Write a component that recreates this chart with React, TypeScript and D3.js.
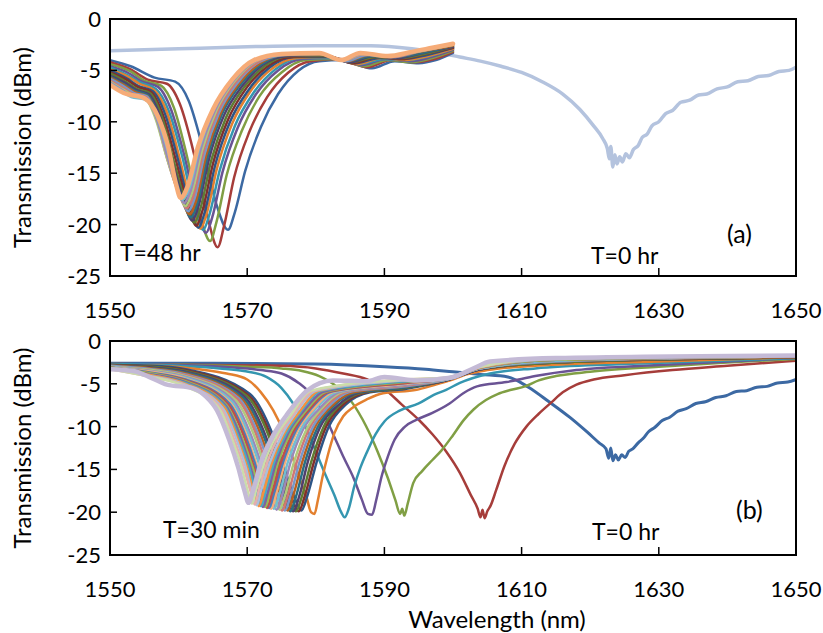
import React from "react";
import * as d3 from "d3";

type Pt = [number, number];

const xTicks = [1550, 1570, 1590, 1610, 1630, 1650];
const yTicks = [0, -5, -10, -15, -20, -25];

// ---------- panel (a) ----------
// T=0 hr spectrum
const aT0: Pt[] = [
  [1550, -3.1], [1560, -2.9], [1570, -2.7], [1580, -2.6], [1588, -2.6], [1594, -2.9], [1598, -3.3],
  [1601, -3.7], [1604, -4.1], [1607, -4.6], [1610, -5.2], [1613, -6.1], [1616, -7.3], [1618.5, -8.8],
  [1620.5, -10.4], [1621.8, -11.6], [1622.5, -12.6], [1622.8, -13.6], [1623.0, -12.4], [1623.3, -14.4],
  [1623.6, -13.2], [1623.9, -14.1], [1624.3, -13.4], [1624.7, -13.9], [1625.2, -13.1], [1625.7, -13.5],
  [1626.3, -12.7], [1627, -12.3], [1627.6, -11.5], [1628.3, -11.2], [1629, -10.4], [1630, -10.0],
  [1631, -9.2], [1632, -8.9], [1633.2, -8.1], [1634.5, -7.9], [1635.8, -7.4], [1637, -7.3], [1638.5, -6.8],
  [1640, -6.6], [1641.5, -6.1], [1643, -6.0], [1644.5, -5.6], [1646, -5.5], [1647.5, -5.1], [1649, -5.0], [1650, -4.7],
];
// later spectra, right to left (last = T=48 hr)
const a01: Pt[] = [[1550,-4.0],[1553,-4.6],[1556.5,-5.7],[1559.5,-6.1],[1561.5,-8.0],[1563.5,-12.5],[1565.5,-18.0],[1567.2,-20.5],[1568.2,-18.8],[1569.7,-14.8],[1572,-10.5],[1574.5,-7.3],[1577.5,-5.0],[1580.5,-4.1],[1584,-4.0],[1588.2,-4.8],[1591.5,-4.1],[1595,-4.3],[1597.5,-4.0],[1600,-3.3]];
const a02: Pt[] = [[1550,-4.2],[1553,-4.9],[1555.5,-5.9],[1558.3,-6.3],[1560.2,-8.3],[1562.2,-13],[1564.2,-19.2],[1565.7,-22.2],[1566.6,-20.2],[1568.1,-15.4],[1570.3,-11],[1572.9,-7.6],[1576,-5.2],[1579.2,-4.1],[1583.5,-3.9],[1587.5,-4.7],[1591,-4.0],[1594.5,-4.2],[1597.3,-3.9],[1600,-3.2]];
const a03: Pt[] = [[1550,-4.4],[1553,-5.1],[1555,-6.0],[1557.5,-6.5],[1559.3,-8.6],[1561.2,-13.3],[1563.2,-19.3],[1564.6,-21.6],[1565.5,-19.8],[1567,-15.2],[1569.2,-10.9],[1571.8,-7.5],[1575,-5.2],[1578.5,-4.0],[1583,-3.9],[1587,-4.6],[1590.5,-4.0],[1594,-4.2],[1597,-3.8],[1600,-3.1]];
const a04: Pt[] = [[1550,-4.6],[1552.8,-5.3],[1554.7,-6.1],[1557,-6.6],[1558.9,-8.8],[1560.8,-13.2],[1562.8,-18.8],[1564.0,-20.8],[1564.9,-19.3],[1566.4,-14.9],[1568.6,-10.6],[1571.3,-7.3],[1574.5,-5.0],[1578,-3.9],[1582.6,-3.8],[1586.6,-4.5],[1590.2,-3.9],[1593.7,-4.1],[1596.8,-3.7],[1600,-3.0]];
const a05: Pt[] = [[1550,-4.7],[1552.7,-5.5],[1554.5,-6.2],[1556.7,-6.8],[1558.6,-9.0],[1560.5,-13.3],[1562.4,-18.6],[1563.6,-20.5],[1564.5,-19.0],[1566,-14.7],[1568.2,-10.4],[1570.9,-7.2],[1574.1,-4.9],[1577.6,-3.8],[1582.3,-3.8],[1586.3,-4.4],[1589.9,-3.9],[1593.4,-4.0],[1596.6,-3.6],[1600,-2.9]];
const a06: Pt[] = [[1550,-4.9],[1552.6,-5.6],[1554.3,-6.3],[1556.4,-6.9],[1558.3,-9.1],[1560.1,-13.4],[1562.0,-18.5],[1563.2,-20.4],[1564.1,-18.9],[1565.6,-14.5],[1567.8,-10.2],[1570.5,-7.0],[1573.7,-4.8],[1577.2,-3.8],[1582,-3.7],[1586,-4.4],[1589.6,-3.8],[1593.1,-4.0],[1596.4,-3.6],[1600,-2.9]];
const a07: Pt[] = [[1550,-5.0],[1552.5,-5.8],[1554.1,-6.5],[1556.2,-7.0],[1558,-9.2],[1559.8,-13.4],[1561.7,-18.4],[1562.9,-20.3],[1563.8,-18.8],[1565.3,-14.3],[1567.5,-10.0],[1570.2,-6.9],[1573.3,-4.7],[1576.8,-3.7],[1581.8,-3.7],[1585.7,-4.3],[1589.3,-3.8],[1592.8,-3.9],[1596.2,-3.5],[1600,-2.8]];
const a08: Pt[] = [[1550,-5.2],[1552.4,-5.9],[1554,-6.6],[1556,-7.1],[1557.7,-9.3],[1559.5,-13.5],[1561.4,-18.2],[1562.6,-20.1],[1563.5,-18.6],[1565,-14.1],[1567.2,-9.8],[1569.9,-6.7],[1573,-4.6],[1576.5,-3.7],[1581.6,-3.6],[1585.4,-4.3],[1589,-3.7],[1592.5,-3.9],[1596,-3.4],[1600,-2.8]];
const a09: Pt[] = [[1550,-5.3],[1552.3,-6.1],[1553.9,-6.8],[1555.8,-7.2],[1557.5,-9.4],[1559.2,-13.6],[1561.1,-18.0],[1562.3,-19.8],[1563.2,-18.4],[1564.7,-13.9],[1566.9,-9.6],[1569.6,-6.6],[1572.7,-4.5],[1576.2,-3.6],[1581.4,-3.6],[1585.1,-4.2],[1588.7,-3.7],[1592.2,-3.8],[1595.8,-3.4],[1600,-2.7]];
const a10: Pt[] = [[1550,-5.5],[1552.2,-6.2],[1553.8,-6.9],[1555.6,-7.3],[1557.3,-9.5],[1559,-13.7],[1560.8,-17.8],[1562.0,-19.6],[1562.9,-18.2],[1564.4,-13.7],[1566.6,-9.4],[1569.3,-6.5],[1572.4,-4.4],[1575.9,-3.6],[1581.2,-3.5],[1584.9,-4.2],[1588.4,-3.6],[1591.9,-3.8],[1595.6,-3.3],[1600,-2.7]];
const a11: Pt[] = [[1550,-5.6],[1552.2,-6.4],[1553.7,-7.0],[1555.5,-7.4],[1557.1,-9.6],[1558.8,-13.8],[1560.6,-17.6],[1561.8,-19.3],[1562.7,-18.0],[1564.2,-13.5],[1566.3,-9.3],[1569,-6.4],[1572.1,-4.4],[1575.7,-3.5],[1581,-3.5],[1584.7,-4.1],[1588.1,-3.6],[1591.6,-3.7],[1595.4,-3.3],[1600,-2.6]];
const a12: Pt[] = [[1550,-5.7],[1552.2,-6.5],[1553.6,-7.1],[1555.4,-7.5],[1557,-9.7],[1558.6,-13.8],[1560.4,-17.4],[1561.6,-19.0],[1562.5,-17.8],[1564,-13.3],[1566.1,-9.2],[1568.8,-6.3],[1571.9,-4.3],[1575.5,-3.5],[1580.9,-3.5],[1584.5,-4.1],[1587.8,-3.5],[1591.4,-3.7],[1595.1,-3.2],[1600,-2.6]];
const a13: Pt[] = [[1550,-5.8],[1552.1,-6.6],[1553.5,-7.2],[1555.3,-7.5],[1556.9,-9.7],[1558.4,-13.6],[1560.2,-17.1],[1561.4,-18.7],[1562.3,-17.5],[1563.8,-13.1],[1565.9,-9.1],[1568.6,-6.2],[1571.7,-4.2],[1575.4,-3.5],[1580.8,-3.4],[1584.3,-4.1],[1587.5,-3.5],[1591.2,-3.7],[1594.9,-3.2],[1600,-2.5]];
const a14: Pt[] = [[1550,-6.0],[1552.1,-6.8],[1553.4,-7.3],[1555.2,-7.6],[1556.8,-9.8],[1558.3,-13.5],[1560,-16.9],[1561.2,-18.4],[1562.1,-17.3],[1563.6,-12.9],[1565.7,-9.0],[1568.4,-6.1],[1571.5,-4.2],[1575.3,-3.4],[1580.7,-3.4],[1584.1,-4.0],[1587.2,-3.4],[1591,-3.7],[1594.6,-3.2],[1600,-2.5]];
const a15: Pt[] = [[1550,-6.1],[1552,-6.9],[1553.3,-7.4],[1555.1,-7.7],[1556.7,-9.8],[1558.2,-13.3],[1559.9,-16.7],[1561.0,-18.2],[1561.9,-17.0],[1563.4,-12.8],[1565.5,-8.9],[1568.2,-6.0],[1571.3,-4.1],[1575.2,-3.4],[1580.6,-3.4],[1584,-4.0],[1587,-3.4],[1590.8,-3.6],[1594.4,-3.2],[1600,-2.5]];
const a16: Pt[] = [[1550,-6.2],[1552,-7.0],[1553.2,-7.5],[1555.1,-7.7],[1556.8,-9.7],[1558.2,-13],[1559.8,-16.5],[1560.8,-17.9],[1561.7,-16.8],[1563.2,-12.7],[1565.3,-8.9],[1568,-6.0],[1571.2,-4.1],[1575.1,-3.4],[1580.5,-3.3],[1583.9,-4.0],[1586.8,-3.4],[1590.7,-3.6],[1594.2,-3.2],[1600,-2.4]];
const a17: Pt[] = [[1550,-6.3],[1552,-7.1],[1553.1,-7.6],[1555,-7.8],[1556.9,-9.6],[1558.4,-12.8],[1559.7,-16.2],[1560.6,-17.6],[1561.5,-16.6],[1563,-12.6],[1565.1,-8.8],[1567.9,-5.9],[1571.1,-4.0],[1575,-3.4],[1580.5,-3.3],[1583.8,-4.0],[1586.6,-3.3],[1590.6,-3.6],[1594.1,-3.2],[1600,-2.4]];
const a18: Pt[] = [[1550,-6.4],[1552,-7.2],[1555,-7.7],[1557,-9.5],[1558.5,-12.5],[1559.6,-16.0],[1560.3,-17.4],[1561.3,-16.3],[1562.8,-12.5],[1565,-8.8],[1567.8,-5.9],[1571,-4.0],[1575,-3.4],[1580.5,-3.3],[1583.7,-4.0],[1586.5,-3.3],[1590.5,-3.6],[1594,-3.2],[1597,-2.8],[1600,-2.4]];

const topSeries = [aT0, a01, a02, a03, a04, a05, a06, a07, a08, a09, a10, a11, a12, a13, a14, a15, a16, a17, a18];

// ---------- panel (b) ----------
const b01: Pt[] = [
  [1550,-2.6],[1565,-2.6],[1580,-2.7],[1590,-3.0],[1596,-3.3],[1600,-3.6],[1604,-3.9],[1608,-4.2],[1611,-5.4],[1614,-7.1],
  [1617,-8.9],[1619.5,-10.6],[1621.3,-11.9],[1622.3,-12.6],[1622.7,-13.7],[1623.0,-12.5],[1623.3,-14.0],[1623.7,-13.3],
  [1624.1,-13.9],[1624.6,-13.3],[1625.1,-13.6],[1625.6,-12.9],[1626.2,-12.6],[1627,-11.9],[1627.7,-11.4],[1628.5,-10.6],
  [1629.4,-10.1],[1630.5,-9.3],[1631.6,-8.9],[1632.8,-8.2],[1634,-7.9],[1635.4,-7.3],[1636.8,-7.1],[1638.3,-6.6],[1639.8,-6.4],
  [1641.3,-5.9],[1642.8,-5.8],[1644.3,-5.4],[1645.8,-5.3],[1647.3,-4.9],[1648.8,-4.8],[1650,-4.5],
];
const b02: Pt[] = [[1550,-2.7],[1565,-2.8],[1575,-2.9],[1580,-3.2],[1584,-3.8],[1587.5,-4.5],[1590,-5.6],[1592.5,-7.4],[1595,-9.2],[1597,-10.9],[1599,-12.9],[1601,-15.4],[1602.6,-18.0],[1603.6,-19.6],[1604.0,-20.6],[1604.3,-19.7],[1604.6,-20.7],[1605.0,-19.9],[1605.5,-19.2],[1606.3,-17.4],[1607.5,-14.6],[1609,-12.0],[1610.7,-10.0],[1612.5,-8.5],[1614.3,-7.2],[1616,-6.0],[1618,-5.1],[1620.5,-4.5],[1625,-4.0],[1632,-3.4],[1640,-2.9],[1650,-2.3]];
const b03: Pt[] = [[1550,-2.7],[1562,-2.8],[1570,-3.0],[1575,-3.2],[1578,-3.5],[1580.5,-4.1],[1583,-5.3],[1585.3,-7.2],[1587.3,-9.9],[1589,-12.9],[1590.5,-16.0],[1591.6,-18.6],[1592.3,-20.2],[1592.6,-19.6],[1592.9,-20.4],[1593.4,-19.0],[1594.2,-16.6],[1595.5,-15.2],[1597,-13.9],[1598.3,-12.8],[1600,-11.0],[1601.5,-9.3],[1603,-8.0],[1604.8,-6.9],[1606.5,-6.2],[1608.5,-5.7],[1610.5,-5.3],[1612.5,-4.6],[1615,-4.1],[1620,-3.6],[1630,-3.0],[1640,-2.5],[1650,-2.1]];
const b04: Pt[] = [[1550,-2.7],[1560,-2.8],[1568,-3.1],[1572,-3.4],[1575,-3.8],[1577.5,-4.9],[1579.6,-6.5],[1581.2,-8.6],[1582.6,-11.0],[1584,-13.5],[1585.5,-16.0],[1586.7,-18.5],[1587.6,-20.2],[1588.2,-20.3],[1588.8,-18.6],[1589.6,-15.8],[1590.5,-13.5],[1591.5,-11.5],[1593,-10.0],[1594.7,-9.2],[1597,-8.4],[1599.5,-7.3],[1601.5,-6.1],[1603.5,-5.3],[1607.8,-4.8],[1612,-4.1],[1618,-3.4],[1630,-2.8],[1650,-2.0]];
const b05: Pt[] = [[1550,-2.7],[1560,-2.9],[1566,-3.2],[1569.5,-3.5],[1572.8,-4.2],[1575,-5.5],[1576.7,-7.3],[1578.5,-10.0],[1580.1,-13.1],[1581.5,-15.8],[1582.7,-18.0],[1583.7,-20.0],[1584.2,-20.6],[1584.8,-19.6],[1585.6,-17.0],[1586.5,-14.8],[1587.5,-12.9],[1588.7,-10.9],[1590,-9.4],[1592.3,-8.1],[1595,-7.3],[1597.2,-6.3],[1599,-5.7],[1601,-4.9],[1605.4,-3.8],[1612,-3.2],[1625,-2.7],[1650,-2.0]];
const b06: Pt[] = [[1550,-2.8],[1557,-2.9],[1563,-3.3],[1567,-3.8],[1570,-4.5],[1572,-6.0],[1573.8,-8.1],[1575.4,-10.8],[1576.7,-13.8],[1577.8,-16.4],[1578.7,-18.4],[1579.3,-20.0],[1579.8,-20.2],[1580.3,-18.6],[1581,-15.8],[1581.8,-13.2],[1582.7,-10.8],[1584,-8.8],[1585.5,-7.7],[1587.5,-6.8],[1589.8,-6.1],[1594.7,-5.7],[1597,-5.2],[1599.6,-4.6],[1602,-3.9],[1605,-3.4],[1612,-2.9],[1630,-2.4],[1650,-1.9]];
const b07: Pt[] = [[1550,-2.8],[1556,-2.9],[1561,-3.3],[1570.4,-6.2],[1573.4,-10.3],[1575.4,-14.8],[1576.9,-18.3],[1577.9,-19.8],[1578.8,-18.0],[1580.1,-14.2],[1581.9,-10.0],[1584.4,-7.4],[1587.9,-6.0],[1593,-5.6],[1599,-4.6],[1604,-3.3],[1615,-2.5],[1650,-1.9]];
const b08: Pt[] = [[1550,-2.8],[1556,-3.0],[1561,-3.4],[1570.1,-6.3],[1573.1,-10.4],[1575.0,-14.8],[1576.5,-18.4],[1577.5,-19.9],[1578.4,-18.1],[1579.7,-14.2],[1581.5,-10.0],[1583.9,-7.5],[1587.4,-6.0],[1593,-5.5],[1599,-4.6],[1604,-3.3],[1615,-2.5],[1650,-1.9]];
const b09: Pt[] = [[1550,-2.85],[1556,-3.0],[1561,-3.5],[1569.9,-6.4],[1572.8,-10.4],[1574.7,-14.8],[1576.1,-18.4],[1577.1,-19.9],[1578.0,-18.1],[1579.3,-14.2],[1581.1,-10.1],[1583.5,-7.5],[1587.0,-6.0],[1593,-5.5],[1599,-4.6],[1604,-3.3],[1615,-2.5],[1650,-1.9]];
const b10: Pt[] = [[1550,-2.9],[1556,-3.1],[1561,-3.6],[1569.6,-6.5],[1572.4,-10.5],[1574.3,-14.8],[1575.8,-18.4],[1576.7,-19.9],[1577.6,-18.1],[1578.8,-14.2],[1580.6,-10.1],[1583.1,-7.6],[1586.5,-6.0],[1593,-5.4],[1599,-4.6],[1604,-3.3],[1615,-2.4],[1650,-1.9]];
const b11: Pt[] = [[1550,-2.9],[1556,-3.2],[1561,-3.7],[1569.35,-6.6],[1572.1,-10.5],[1574.0,-14.8],[1575.4,-18.4],[1576.3,-19.9],[1577.1,-18.2],[1578.4,-14.2],[1580.2,-10.2],[1582.6,-7.6],[1586.0,-6.0],[1593,-5.4],[1599,-4.5],[1604,-3.2],[1615,-2.4],[1650,-1.9]];
const b12: Pt[] = [[1550,-2.9],[1556,-3.2],[1561,-3.8],[1569.1,-6.7],[1571.8,-10.6],[1573.6,-14.8],[1575.0,-18.3],[1575.9,-19.8],[1576.7,-18.1],[1578.0,-14.2],[1579.8,-10.2],[1582.2,-7.7],[1585.5,-6.0],[1593,-5.3],[1599,-4.5],[1604,-3.2],[1615,-2.4],[1650,-1.9]];
const b13: Pt[] = [[1550,-2.9],[1556,-3.3],[1561,-3.9],[1568.8,-6.7],[1571.5,-10.7],[1573.3,-14.8],[1574.6,-18.3],[1575.5,-19.8],[1576.3,-18.1],[1577.6,-14.2],[1579.4,-10.3],[1581.7,-7.8],[1585.1,-5.9],[1593,-5.3],[1599,-4.5],[1604,-3.2],[1615,-2.4],[1650,-1.8]];
const b14: Pt[] = [[1550,-3.0],[1556,-3.4],[1561,-4.0],[1568.6,-6.8],[1571.2,-10.7],[1572.9,-14.8],[1574.2,-18.3],[1575.1,-19.8],[1575.9,-18.1],[1577.2,-14.2],[1579.0,-10.3],[1581.3,-7.8],[1584.6,-5.9],[1593,-5.2],[1599,-4.5],[1604,-3.2],[1615,-2.3],[1650,-1.8]];
const b15: Pt[] = [[1550,-3.0],[1556,-3.4],[1561,-4.1],[1568.3,-6.9],[1570.9,-10.8],[1572.6,-14.8],[1573.9,-18.2],[1574.7,-19.7],[1575.5,-18.1],[1576.8,-14.2],[1578.6,-10.4],[1580.8,-7.9],[1584.1,-5.9],[1593,-5.1],[1599,-4.5],[1604,-3.2],[1615,-2.3],[1650,-1.8]];
const b16: Pt[] = [[1550,-3.0],[1556,-3.5],[1561,-4.2],[1568.0,-7.0],[1570.5,-10.9],[1572.2,-14.8],[1573.5,-18.2],[1574.3,-19.7],[1575.1,-18.0],[1576.3,-14.2],[1578.1,-10.4],[1580.4,-8.0],[1583.7,-5.9],[1593,-5.1],[1599,-4.5],[1604,-3.2],[1615,-2.3],[1650,-1.8]];
const b17: Pt[] = [[1550,-3.0],[1556,-3.6],[1561,-4.3],[1567.8,-7.1],[1570.2,-10.9],[1571.9,-14.8],[1573.1,-18.1],[1573.9,-19.6],[1574.7,-17.9],[1575.9,-14.2],[1577.7,-10.5],[1579.9,-8.0],[1583.2,-5.9],[1593,-5.0],[1599,-4.5],[1604,-3.2],[1615,-2.3],[1650,-1.8]];
const b18: Pt[] = [[1550,-3.1],[1556,-3.6],[1561,-4.4],[1567.5,-7.2],[1569.9,-11.0],[1571.5,-14.8],[1572.7,-18.1],[1573.5,-19.6],[1574.2,-17.9],[1575.5,-14.2],[1577.3,-10.5],[1579.5,-8.1],[1582.7,-5.9],[1593,-5.0],[1599,-4.4],[1604,-3.1],[1615,-2.2],[1650,-1.8]];
const b19: Pt[] = [[1550,-3.1],[1556,-3.7],[1561,-4.5],[1567.4,-7.3],[1569.7,-11.0],[1571.3,-14.8],[1572.4,-18.0],[1573.2,-19.5],[1573.9,-17.8],[1575.2,-14.2],[1577.0,-10.6],[1579.1,-8.1],[1582.3,-5.9],[1593,-4.9],[1599,-4.4],[1604,-3.1],[1615,-2.2],[1650,-1.8]];
const b20: Pt[] = [[1550,-3.1],[1556,-3.8],[1561,-4.6],[1567.2,-7.4],[1569.5,-11.1],[1571.0,-14.8],[1572.2,-18.0],[1572.9,-19.5],[1573.6,-17.8],[1574.9,-14.2],[1576.7,-10.6],[1578.8,-8.2],[1582.0,-5.9],[1593,-4.9],[1599,-4.4],[1604,-3.1],[1615,-2.2],[1650,-1.8]];
const b21: Pt[] = [[1550,-3.1],[1556,-3.8],[1561,-4.7],[1567.0,-7.5],[1569.2,-11.2],[1570.8,-14.8],[1571.9,-17.9],[1572.6,-19.4],[1573.3,-17.7],[1574.5,-14.2],[1576.3,-10.7],[1578.4,-8.3],[1581.6,-5.9],[1593,-4.8],[1599,-4.4],[1604,-3.1],[1615,-2.2],[1650,-1.8]];
const b22: Pt[] = [[1550,-3.2],[1556,-3.9],[1561,-4.8],[1566.9,-7.6],[1569.0,-11.2],[1570.5,-14.8],[1571.6,-17.9],[1572.3,-19.4],[1573.0,-17.7],[1574.2,-14.2],[1576.0,-10.7],[1578.1,-8.3],[1581.2,-5.9],[1593,-4.7],[1599,-4.4],[1604,-3.1],[1615,-2.1],[1650,-1.8]];
const b23: Pt[] = [[1550,-3.2],[1556,-4.0],[1561,-4.9],[1566.7,-7.6],[1568.8,-11.3],[1570.3,-14.8],[1571.3,-17.8],[1572.0,-19.3],[1572.7,-17.6],[1573.9,-14.2],[1575.7,-10.8],[1577.7,-8.4],[1580.9,-5.8],[1593,-4.7],[1599,-4.4],[1604,-3.1],[1615,-2.1],[1650,-1.7]];
const b24: Pt[] = [[1550,-3.2],[1556,-4.0],[1561,-5.0],[1566.6,-7.7],[1568.6,-11.4],[1570.0,-14.8],[1571.0,-17.8],[1571.7,-19.3],[1572.4,-17.6],[1573.6,-14.2],[1575.4,-10.8],[1577.4,-8.5],[1580.5,-5.8],[1593,-4.6],[1599,-4.4],[1604,-3.1],[1615,-2.1],[1650,-1.7]];
const b25: Pt[] = [[1550,-3.2],[1556,-4.1],[1561,-5.1],[1566.4,-7.8],[1568.4,-11.4],[1569.8,-14.8],[1570.7,-17.7],[1571.4,-19.2],[1572.0,-17.5],[1573.3,-14.2],[1575.1,-10.9],[1577.0,-8.5],[1580.1,-5.8],[1593,-4.6],[1599,-4.3],[1604,-3.0],[1615,-2.1],[1650,-1.7]];
const b26: Pt[] = [[1550,-3.3],[1556,-4.2],[1561,-5.2],[1566.2,-7.9],[1568.1,-11.5],[1569.5,-14.8],[1570.5,-17.6],[1571.1,-19.1],[1571.7,-17.4],[1572.9,-14.2],[1574.7,-10.9],[1576.7,-8.6],[1579.7,-5.8],[1593,-4.5],[1599,-4.3],[1604,-3.0],[1615,-2.0],[1650,-1.7]];
const b27: Pt[] = [[1550,-3.3],[1556,-4.2],[1561,-5.3],[1566.0,-8.0],[1567.8,-11.5],[1569.2,-14.8],[1570.1,-17.6],[1570.7,-19.0],[1571.3,-17.4],[1572.5,-14.2],[1574.3,-11.0],[1576.3,-8.7],[1579.3,-5.8],[1593,-4.5],[1599,-4.3],[1604,-3.0],[1615,-2.0],[1650,-1.7]];
const b28: Pt[] = [[1550,-3.3],[1553.4,-3.5],[1556,-4.3],[1558.3,-5.1],[1562,-5.5],[1564,-6.5],[1565.6,-8.1],[1567.4,-11.6],[1568.7,-14.8],[1569.6,-17.5],[1570.2,-18.9],[1570.8,-17.6],[1572,-14.2],[1573.8,-11.0],[1575.7,-8.7],[1578.7,-5.8],[1582.5,-4.6],[1587.4,-4.7],[1590,-4.2],[1594.7,-4.6],[1599.6,-4.3],[1603,-3.2],[1605.4,-2.4],[1615,-2.0],[1650,-1.7]];

const bottomSeries = [b01, b02, b03, b04, b05, b06, b07, b08, b09, b10, b11, b12, b13, b14, b15, b16, b17, b18, b19, b20, b21, b22, b23, b24, b25, b26, b27, b28];

// Excel-like series colours
const palette = [
  "#3C69A3", "#A63D3A", "#809F44", "#6A5394", "#3496B0", "#E3802F",
  "#2D5586", "#7F302D", "#5F7B33", "#503F6D", "#2A6F84", "#B8601F",
  "#7898C9", "#CF7774", "#B0C97D", "#9B88B8", "#72BDD1", "#F6AC78",
  "#4A7DBA", "#BF4E4B", "#97B956", "#7E62A1", "#47A9C4", "#F4913F",
  "#A9BFDE", "#E3AFAE", "#CBDDAA", "#C4BAD6",
];
const topColors = ["#B4C3DE", ...palette.slice(0, 18)];
const topWidths = topSeries.map((_, i) => (i === 0 ? 3.5 : i === topSeries.length - 1 ? 4.5 : 2.5));
const bottomColors = palette.slice(0, 28);
const bottomWidths = bottomSeries.map((_, i) => (i === 0 ? 3 : i === bottomSeries.length - 1 ? 4.5 : 2.5));

const FONT = "Lato, 'Open Sans', sans-serif";
const X0 = 110;
const X1 = 796;

type Note = { text: string; x: number; y: number; size: number };

function Panel({ id, top, bottom, series, colors, widths, notes }: {
  id: string; top: number; bottom: number; series: Pt[][]; colors: string[]; widths: number[]; notes: Note[];
}) {
  const x = d3.scaleLinear().domain([1550, 1650]).range([X0, X1]);
  const y = d3.scaleLinear().domain([-25, 0]).range([bottom, top]);
  const line = d3.line<Pt>().x((d) => x(d[0])).y((d) => y(d[1])).curve(d3.curveMonotoneX);
  return (
    <g>
      <defs>
        <clipPath id={id}>
          <rect x={X0} y={top} width={X1 - X0} height={bottom - top} />
        </clipPath>
      </defs>
      <g clipPath={`url(#${id})`}>
        {series.map((s, i) => (
          <path key={i} d={line(s) ?? ""} fill="none" stroke={colors[i]} strokeWidth={widths[i]}
            strokeLinejoin="round" strokeLinecap="round" />
        ))}
      </g>
      <rect x={X0} y={top} width={X1 - X0} height={bottom - top} fill="none" stroke="#000" strokeWidth={2} />
      {yTicks.map((v) => (
        <g key={v}>
          <line x1={X0} x2={X0 + 7} y1={y(v)} y2={y(v)} stroke="#000" strokeWidth={1.5} />
          <text x={X0 - 9} y={y(v) + 8} textAnchor="end" fontSize={22} fontFamily={FONT}>{v}</text>
        </g>
      ))}
      {xTicks.map((v) => (
        <g key={v}>
          <line x1={x(v)} x2={x(v)} y1={bottom} y2={bottom - 8} stroke="#000" strokeWidth={1.5} />
          <text x={x(v)} y={bottom + 42} textAnchor="middle" fontSize={22} fontFamily={FONT}>{v}</text>
        </g>
      ))}
      <text transform={`translate(31,${(top + bottom) / 2}) rotate(-90)`} textAnchor="middle" fontSize={24} fontFamily={FONT}>
        Transmission (dBm)
      </text>
      {notes.map((n) => (
        <text key={n.text} x={n.x} y={n.y} fontSize={n.size} fontFamily={FONT}>{n.text}</text>
      ))}
    </g>
  );
}

export default function App() {
  return (
    <svg width={823} height={633} style={{ position: "absolute", left: 0, top: 0, background: "#fff" }}>
      <Panel id="clipA" top={19} bottom={276} series={topSeries} colors={topColors} widths={topWidths}
        notes={[
          { text: "T=48 hr", x: 120, y: 261, size: 23 },
          { text: "T=0 hr", x: 591, y: 264, size: 23 },
          { text: "(a)", x: 727, y: 243, size: 25 },
        ]} />
      <Panel id="clipB" top={341} bottom={555} series={bottomSeries} colors={bottomColors} widths={bottomWidths}
        notes={[
          { text: "T=30 min", x: 163, y: 538, size: 23 },
          { text: "T=0 hr", x: 592, y: 540, size: 23 },
          { text: "(b)", x: 736, y: 519, size: 25 },
        ]} />
      <text x={497} y={628} textAnchor="middle" fontSize={24} fontFamily={FONT}>Wavelength (nm)</text>
    </svg>
  );
}
